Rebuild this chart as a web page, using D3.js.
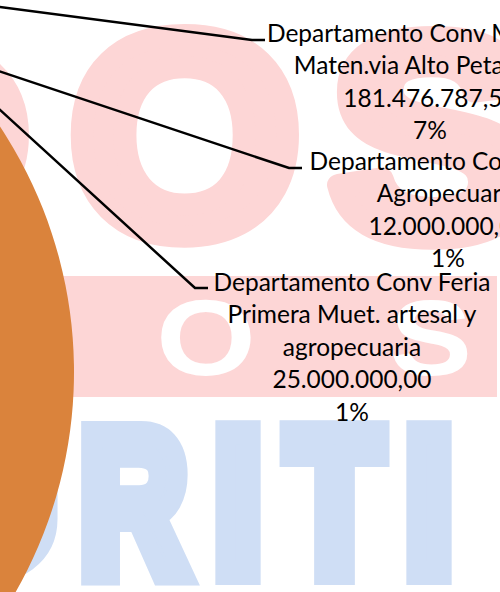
<!DOCTYPE html>
<html>
<head>
<meta charset="utf-8">
<script src="https://cdn.jsdelivr.net/npm/d3@7"></script>
<style>
    body { margin: 0; background: #fff; }
    svg { display: block; }
    .label { font-family: Lato, "Open Sans", sans-serif; fill: #000; }
    .leader { fill: none; stroke: #000; stroke-width: 2.5; }
    .mark { font-family: "Liberation Sans", Arial, sans-serif; font-weight: bold; }
</style>
</head>
<body>
<div id="chart"></div>
<script>
// Slices of the pie (only the right-hand part of the pie is in the picture)
const sliceNames = [
    "Departamento Conv Mejoram. Maten.via Alto Petaquero",
    "Departamento Conv Feria Agropecuaria",
    "Departamento Conv Feria Primera Muet. artesal y agropecuaria",
    "Otros"
];
const sliceValues = [181476787.5, 12000000, 25000000, 2374000000];
const slicePercents = ["7%", "1%", "1%", ""];
const sliceColors = ["#5B9BD5", "#A5A5A5", "#FFC000", "#DA833C"];

// Name lines shown in each data label
const labelNameLines = [
    ["Departamento Conv Mejoram.", "Maten.via Alto Petaquero"],
    ["Departamento Conv Feria", "Agropecuaria"],
    ["Departamento Conv Feria", "Primera Muet. artesal y", "agropecuaria"]
];

// Watermark letters behind the chart
const wmTop = ["D", "O", "S"];
const wmBand = ["O", "S"];
const wmBottom = ["U", "R", "I", "T", "I"];

const width = 500,
    height = 592;

// Pie geometry: centre lies off the left edge of the picture
const pieCenter = {x: -370, y: 372},
    radius = 444,
    firstAngle = 17.5 * Math.PI / 180;

// Where each label sits and where its leader line ends
const labelLayout = [
    {x: 430, y: 33, end: [265, 40]},
    {x: 448, y: 161, end: [302, 168]},
    {x: 352, y: 282, end: [208, 288]}
];
const lineStep = 32.5;

let svg = d3.select("#chart")
    .append("svg")
    .attr("width", width)
    .attr("height", height);

// ---- watermark ----
const pink = "#FDD6D6", blue = "#CFDEF5";
let wm = svg.append("g").attr("class", "watermark");

// box = [left, top, right, baseline]; stroke thickens the glyph
function drawLetter(ch, box, fill, sw, join) {
    wm.append("text")
        .attr("class", "mark")
        .attr("x", box[0])
        .attr("y", box[3])
        .attr("font-size", (box[3] - box[1]) / 0.716)
        .attr("textLength", box[2] - box[0])
        .attr("lengthAdjust", "spacingAndGlyphs")
        .style("fill", fill)
        .style("stroke", sw ? fill : "none")
        .style("stroke-width", sw)
        .style("stroke-linejoin", join)
        .text(ch);
}

const topBoxes = [[-225, 32, 30, 234], [70, 30, 300, 234], [330, 32, 535, 236]];
wmTop.forEach((ch, i) => drawLetter(ch, topBoxes[i], pink, 22, "round"));

wm.append("rect")
    .attr("x", -10).attr("y", 276)
    .attr("width", 507).attr("height", 121)
    .style("fill", pink);

const bandBoxes = [[156, 298, 256, 375], [390, 298, 472, 375]];
wmBand.forEach((ch, i) => drawLetter(ch, bandBoxes[i], "#fff", 0, "round"));

const bottomBoxes = [[-120, 427, 58, 573], [80, 427, 187, 573], [214, 427, 262, 573],
    [287, 427, 382, 573], [405, 427, 453, 573]];
wmBottom.forEach((ch, i) => drawLetter(ch, bottomBoxes[i], blue, 24, "miter"));

// ---- pie ----
let pie = d3.pie()
    .sort(null)
    .startAngle(firstAngle)
    .endAngle(firstAngle + 2 * Math.PI)
    .value(d => d);

let arcs = pie(sliceValues);

let arc = d3.arc()
    .innerRadius(0)
    .outerRadius(radius);

// arc used to find the outer edge point at the middle of each slice
let edgeArc = d3.arc()
    .innerRadius(radius)
    .outerRadius(radius);

let pieGroup = svg.append("g")
    .attr("transform", `translate(${pieCenter.x}, ${pieCenter.y})`);

pieGroup.selectAll("path")
    .data(arcs)
    .enter()
    .append("path")
    .attr("d", arc)
    .style("fill", (d, i) => sliceColors[i]);

// ---- data labels ----
const fmt = d3.formatLocale({decimal: ",", thousands: ".", grouping: [3], currency: ["", ""]}).format(",.2f");

// fit the label font so a reference line is as wide as in the picture
let probe = svg.append("text").attr("class", "label").attr("font-size", 100).text("Departamento Conv Feria");
const fontSize = 100 * 277 / probe.node().getComputedTextLength();
probe.remove();

labelNameLines.forEach((names, i) => {
    let lay = labelLayout[i];
    let p = edgeArc.centroid(arcs[i]);
    let start = [pieCenter.x + p[0], pieCenter.y + p[1]];
    let bend = [lay.end[0] - 13, lay.end[1]];

    svg.append("path")
        .attr("class", "leader")
        .attr("d", d3.line()([start, bend, lay.end]));

    let lines = names.concat([fmt(sliceValues[i]), slicePercents[i]]);
    let text = svg.append("text")
        .attr("class", "label")
        .attr("text-anchor", "middle")
        .attr("font-size", fontSize);

    text.selectAll("tspan")
        .data(lines)
        .enter()
        .append("tspan")
        .attr("x", lay.x)
        .attr("y", (d, j) => lay.y + j * lineStep)
        .attr("dy", "0.35em")
        .text(d => d);
});
</script>
</body>
</html>
